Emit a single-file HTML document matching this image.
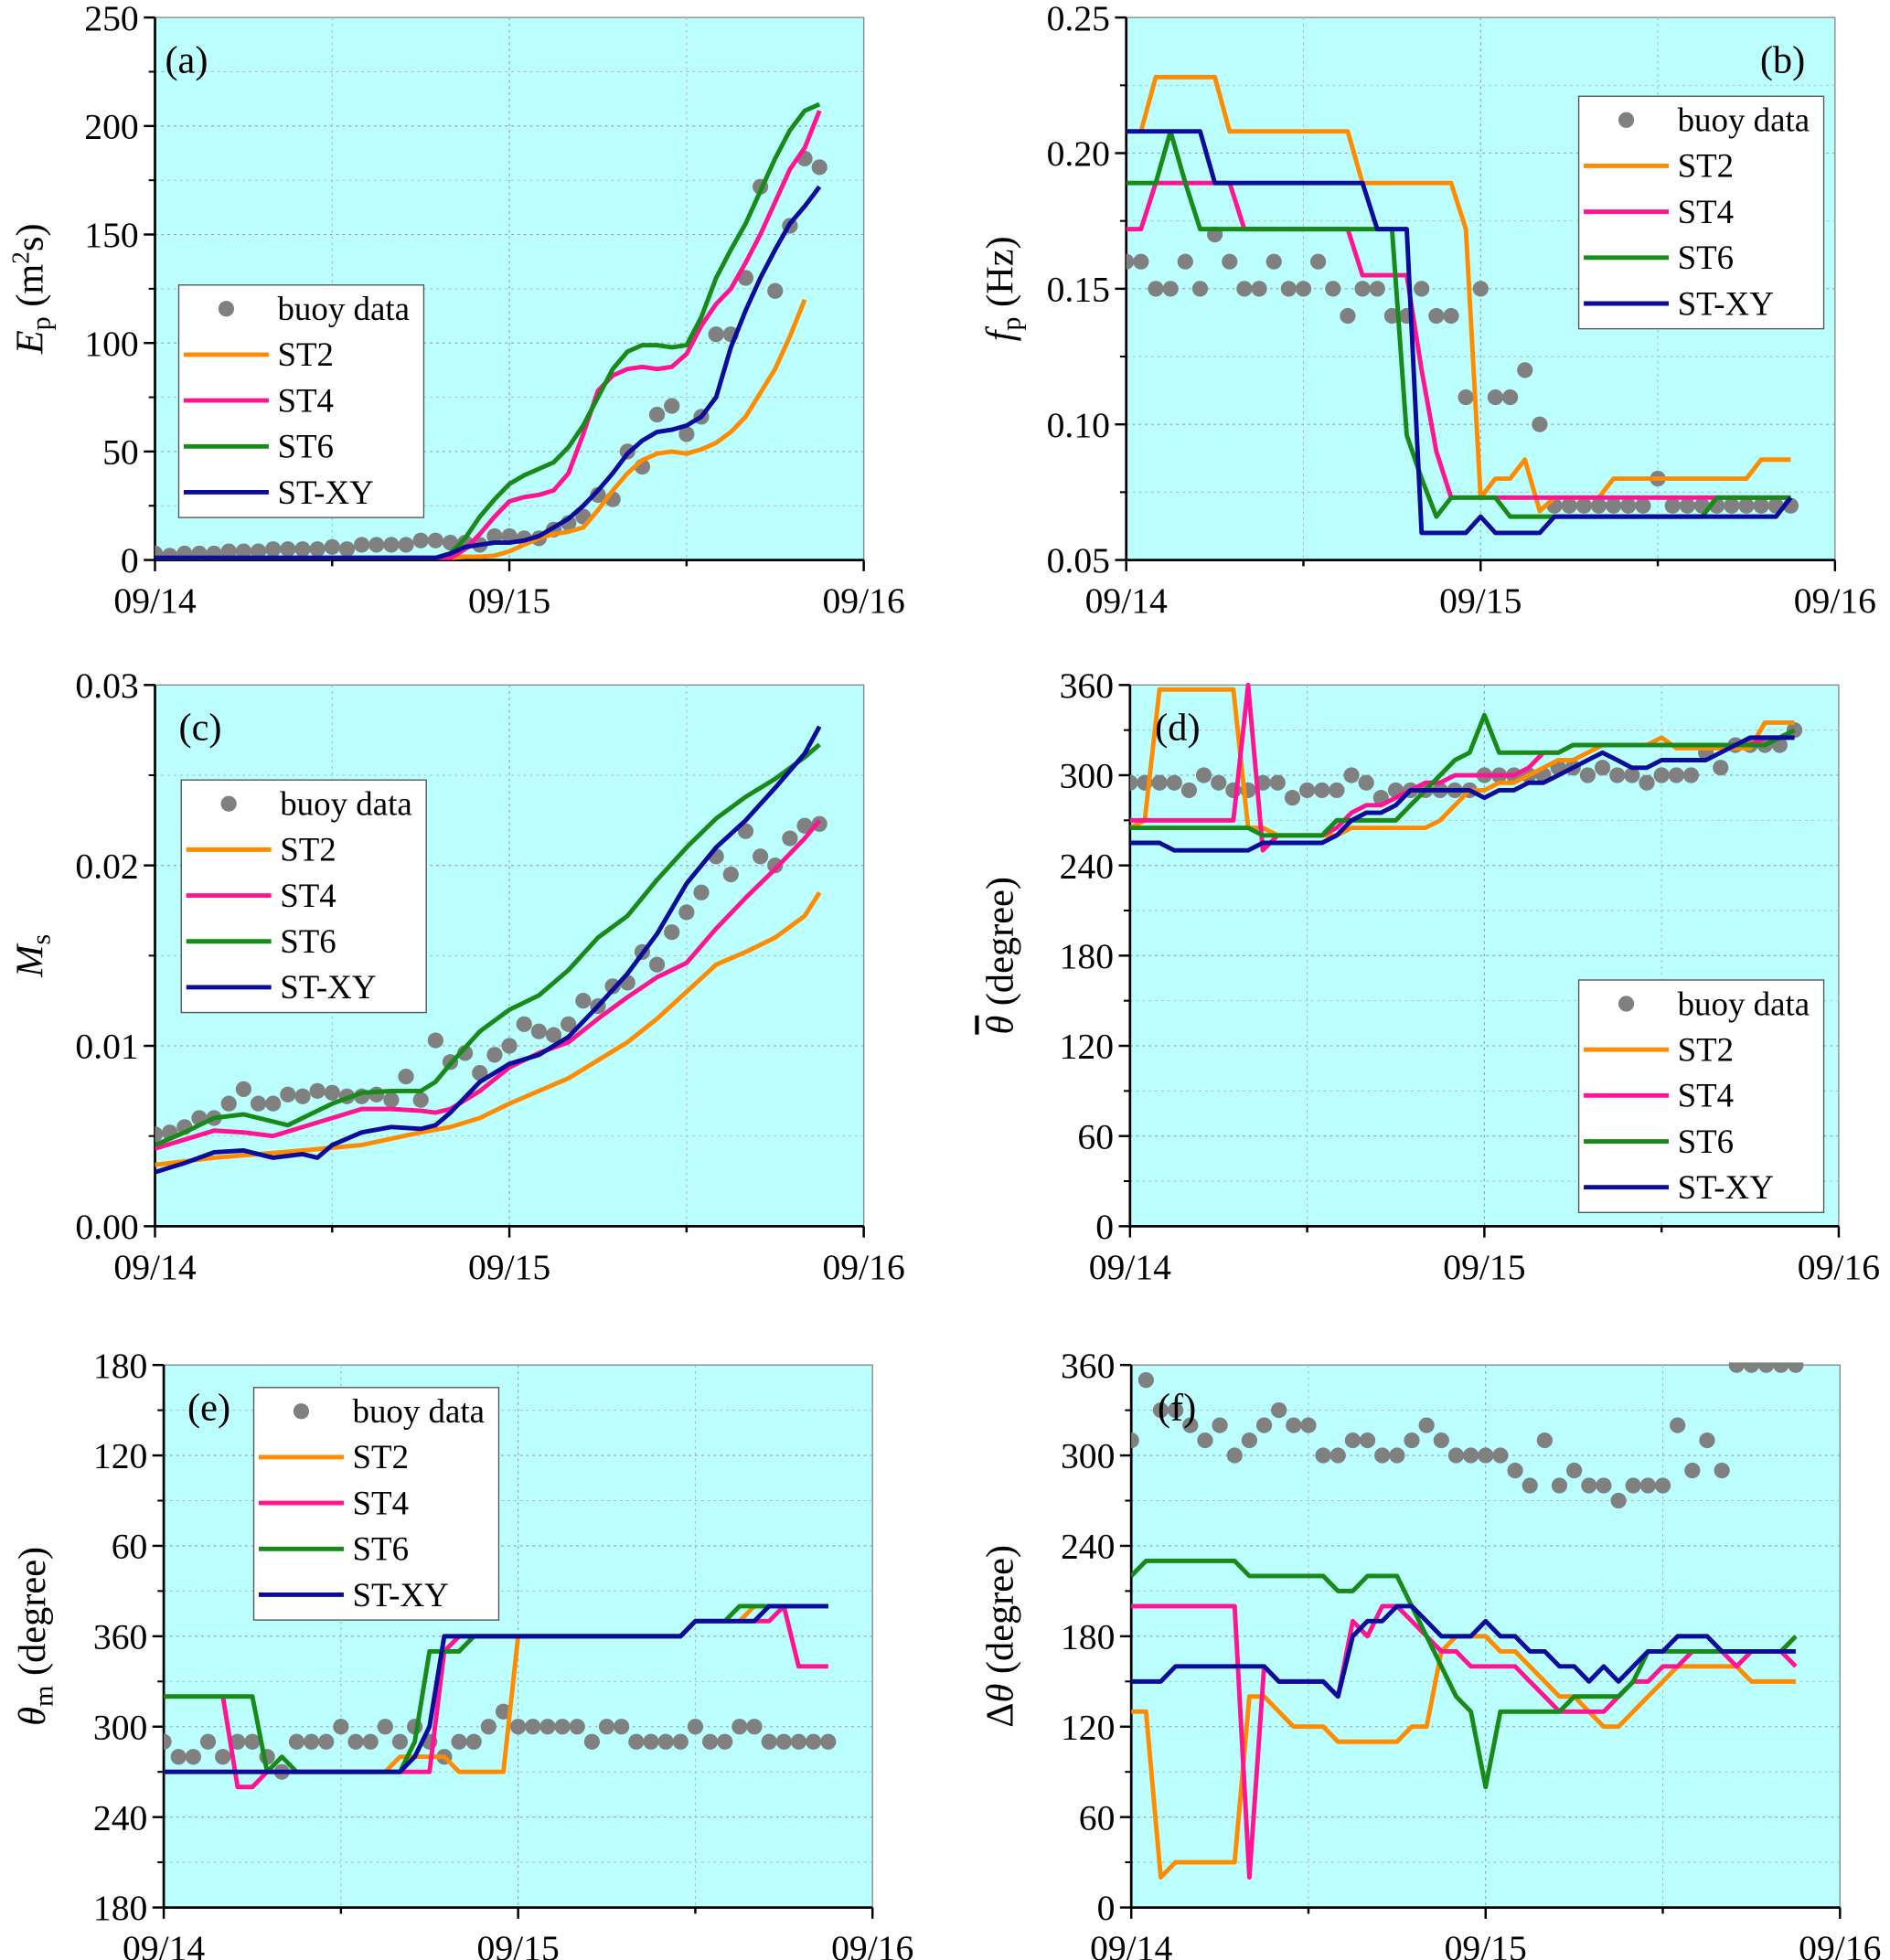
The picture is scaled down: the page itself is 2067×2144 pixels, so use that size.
<!DOCTYPE html>
<html><head><meta charset="utf-8"><style>
html,body{margin:0;padding:0;background:#fff}
svg{display:block}
text{font-family:"Liberation Serif",serif;fill:#000}
</style></head><body>
<svg id="fig" width="2067" height="2144" viewBox="0 0 1512 1568" preserveAspectRatio="none" xmlns="http://www.w3.org/2000/svg"></svg>
<script>
// ---------- shared categories ----------
const hours = [0,1,2,3,4,5,6,7,8,9,10,11,12,13,14,15,16,17,18,19,20,21,22,23,24,25,26,27,28,29,30,31,32,33,34,35,36,37,38,39,40,41,42,43,44,45,46,47];
const xTickLabels = ["09/14","09/15","09/16"];
const seriesNames = ["buoy data","ST2","ST4","ST6","ST-XY"];

// ---------- (a) Ep ----------
const buoyA = [3,2,3,3,3,4,4,4,5,5,5,5,6,5,7,7,7,7,9,9,8,8,7,11,11,10,10,14,17,20,30,28,50,43,67,71,58,66,104,104,130,172,124,154,185,181];
const st2A = [1,1,1,1,1,1,1,1,1,1,1,1,1,1,1,1,1,1,1,1,1,1.5,1.5,2,4,7,10,12,13,15,23,32,40,46,49,50,49,51,54,59,66,77,88,103,120];
const st4A = [1,1,1,1,1,1,1,1,1,1,1,1,1,1,1,1,1,1,1,1,1,5,12,20,27,29,30,32,40,58,78,85,88,89,88,89,95,108,118,125,137,150,165,180,190,207];
const st6A = [1,1,1,1,1,1,1,1,1,1,1,1,1,1,1,1,1,1,1,1,3,10,20,28,35,39,42,45,52,62,75,88,96,99,99,98,99,112,130,143,155,170,185,198,207,210];
const stxyA = [1,1,1,1,1,1,1,1,1,1,1,1,1,1,1,1,1,1,1,1,3,6,7,8,8,9,11,15,19,25,32,40,49,55,59,60,62,66,75,98,115,130,143,155,163,172];
const yTicksA = [0,50,100,150,200,250];

// ---------- (b) fp ----------
const buoyB = [0.16,0.16,0.15,0.15,0.16,0.15,0.17,0.16,0.15,0.15,0.16,0.15,0.15,0.16,0.15,0.14,0.15,0.15,0.14,0.14,0.15,0.14,0.14,0.11,0.15,0.11,0.11,0.12,0.10,0.07,0.07,0.07,0.07,0.07,0.07,0.07,0.08,0.07,0.07,0.07,0.07,0.07,0.07,0.07,0.07,0.07];
const st2B = [0.208,0.208,0.228,0.228,0.228,0.228,0.228,0.208,0.208,0.208,0.208,0.208,0.208,0.208,0.208,0.208,0.189,0.189,0.189,0.189,0.189,0.189,0.189,0.172,0.073,0.08,0.08,0.087,0.068,0.073,0.073,0.073,0.073,0.08,0.08,0.08,0.08,0.08,0.08,0.08,0.08,0.08,0.08,0.087,0.087,0.087];
const st4B = [0.172,0.172,0.189,0.189,0.189,0.189,0.189,0.189,0.172,0.172,0.172,0.172,0.172,0.172,0.172,0.172,0.155,0.155,0.155,0.155,0.12,0.09,0.073,0.073,0.073,0.073,0.073,0.073,0.073,0.073,0.073,0.073,0.073,0.073,0.073,0.073,0.073,0.073,0.073,0.073,0.073,0.073,0.073,0.073,0.073,0.073];
const st6B = [0.189,0.189,0.189,0.208,0.189,0.172,0.172,0.172,0.172,0.172,0.172,0.172,0.172,0.172,0.172,0.172,0.172,0.172,0.172,0.096,0.08,0.066,0.073,0.073,0.073,0.073,0.066,0.066,0.066,0.066,0.066,0.066,0.066,0.066,0.066,0.066,0.066,0.066,0.066,0.066,0.073,0.073,0.073,0.073,0.073,0.073];
const stxyB = [0.208,0.208,0.208,0.208,0.208,0.208,0.189,0.189,0.189,0.189,0.189,0.189,0.189,0.189,0.189,0.189,0.189,0.172,0.172,0.172,0.06,0.06,0.06,0.06,0.066,0.06,0.06,0.06,0.06,0.066,0.066,0.066,0.066,0.066,0.066,0.066,0.066,0.066,0.066,0.066,0.066,0.066,0.066,0.066,0.066,0.073];
const yTicksB = [0.05,0.10,0.15,0.20,0.25];

// ---------- (c) Ms ----------
const buoyC = [0.0051,0.0052,0.0055,0.0060,0.0060,0.0068,0.0076,0.0068,0.0068,0.0073,0.0072,0.0075,0.0074,0.0072,0.0072,0.0073,0.0070,0.0083,0.0070,0.0103,0.0091,0.0096,0.0085,0.0095,0.0100,0.0112,0.0108,0.0106,0.0112,0.0125,0.0122,0.0133,0.0135,0.0152,0.0145,0.0163,0.0174,0.0185,0.0205,0.0195,0.0219,0.0205,0.0200,0.0215,0.0222,0.0223];
const hoursST2C = [0,4,10,14,18,20,22,24,26,28,30,32,34,36,38,40,42,44,45];
const st2C = [0.0034,0.0038,0.0042,0.0045,0.0052,0.0055,0.0060,0.0068,0.0075,0.0082,0.0092,0.0102,0.0115,0.0130,0.0145,0.0152,0.0160,0.0172,0.0185];
const hoursST4C = [0,2,4,6,8,10,12,14,16,18,19,20,22,24,26,28,30,32,34,36,38,40,42,44,45];
const st4C = [0.0043,0.0048,0.0053,0.0052,0.0050,0.0055,0.0060,0.0065,0.0065,0.0064,0.0063,0.0065,0.0075,0.0088,0.0096,0.0102,0.0115,0.0127,0.0138,0.0146,0.0165,0.0182,0.0198,0.0215,0.0225];
const hoursST6C = [0,2,4,6,8,9,10,12,14,16,18,19,20,22,24,26,28,30,32,34,36,38,40,42,44,45];
const st6C = [0.0045,0.0052,0.0060,0.0062,0.0058,0.0056,0.0060,0.0068,0.0074,0.0075,0.0075,0.0080,0.0090,0.0108,0.0120,0.0128,0.0142,0.0160,0.0172,0.0192,0.0210,0.0226,0.0238,0.0248,0.0260,0.0267];
const hoursSTXYC = [0,2,4,6,8,10,11,12,14,16,18,19,20,22,24,26,28,30,32,34,36,38,40,42,44,45];
const stxyC = [0.0030,0.0035,0.0041,0.0042,0.0038,0.0040,0.0038,0.0045,0.0052,0.0055,0.0054,0.0056,0.0063,0.0080,0.0090,0.0095,0.0105,0.0122,0.0140,0.0162,0.0190,0.0210,0.0225,0.0243,0.0262,0.0277];
const yTicksC = [0,0.01,0.02,0.03];

// ---------- (d) mean direction ----------
const buoyD = [295,295,295,295,290,300,295,290,290,295,295,285,290,290,290,300,295,285,290,290,290,290,290,290,300,300,300,300,300,305,305,300,305,300,300,295,300,300,300,315,305,320,320,320,320,330];
const st2D = [265,270,357,357,357,357,357,357,265,265,260,260,260,260,260,265,265,265,265,265,265,270,280,290,290,295,295,300,305,310,310,315,320,320,320,320,325,318,318,318,318,318,318,335,335,335];
const st4D = [270,270,270,270,270,270,270,270,360,250,260,260,260,260,265,275,280,280,285,290,295,295,300,300,300,300,300,305,315,315,320,320,320,320,320,320,320,320,320,320,320,320,320,325,325,330];
const st6D = [265,265,265,265,265,265,265,265,265,260,260,260,260,260,270,270,270,270,270,280,290,300,310,315,340,315,315,315,315,315,320,320,320,320,320,320,320,320,320,320,320,320,320,320,325,330];
const stxyD = [255,255,255,250,250,250,250,250,250,255,255,255,255,255,260,270,275,275,280,290,290,290,290,290,285,290,290,295,295,300,305,310,315,310,305,305,310,310,310,310,315,320,325,325,325,325];
const yTicksD = [0,60,120,180,240,300,360];

// ---------- (e) theta_m (unwrapped degrees) ----------
const buoyE = [290,280,280,290,280,290,290,280,270,290,290,290,300,290,290,300,290,300,290,280,290,290,300,310,300,300,300,300,300,290,300,300,290,290,290,290,300,290,290,300,300,290,290,290,290,290];
const st2E = [270,270,270,270,270,270,270,270,270,270,270,270,270,270,270,270,280,280,280,280,270,270,270,270,360,360,360,360,360,360,360,360,360,360,360,360,370,370,370,370,380,380,380,380,380,380];
const hoursST4E = [4,5,6,7,8,9,10,11,12,13,14,15,16,17,18,19,20,21,22,23,24,25,26,27,28,29,30,31,32,33,34,35,36,37,38,39,40,41,42,43,44,45];
const st4E = [320,260,260,270,270,270,270,270,270,270,270,270,270,270,270,350,360,360,360,360,360,360,360,360,360,360,360,360,360,360,360,360,370,370,370,370,370,370,380,340,340,340];
const st6E = [320,320,320,320,320,320,320,270,280,270,270,270,270,270,270,270,270,290,350,350,350,360,360,360,360,360,360,360,360,360,360,360,360,360,360,360,370,370,370,380,380,380,380,380,380,380];
const stxyE = [270,270,270,270,270,270,270,270,270,270,270,270,270,270,270,270,270,280,300,360,360,360,360,360,360,360,360,360,360,360,360,360,360,360,360,360,370,370,370,370,370,380,380,380,380,380];
const yTicksE = [180,240,300,360,420,480,540];
const yTickLabelsE = ["180","240","300","360","60","120","180"];

// ---------- (f) spread ----------
const buoyF = [310,350,330,330,320,310,320,300,310,320,330,320,320,300,300,310,310,300,300,310,320,310,300,300,300,300,290,280,310,280,290,280,280,270,280,280,280,320,290,310,290,360,360,360,360,360];
const st2F = [130,130,20,30,30,30,30,30,140,140,130,120,120,120,110,110,110,110,110,120,120,170,180,180,180,170,170,160,150,140,140,130,120,120,130,140,150,160,160,160,160,160,150,150,150,150];
const st4F = [200,200,200,200,200,200,200,200,20,160,150,150,150,150,140,190,180,200,200,190,180,170,170,160,160,160,160,150,140,130,130,130,130,140,150,150,160,160,170,170,170,160,170,170,170,160];
const st6F = [220,230,230,230,230,230,230,230,220,220,220,220,220,220,210,210,220,220,220,200,180,160,140,130,80,130,130,130,130,130,140,140,140,140,150,170,170,170,170,170,170,170,170,170,170,180];
const stxyF = [150,150,150,160,160,160,160,160,160,160,150,150,150,150,140,180,190,190,200,200,190,180,180,180,190,180,180,170,170,160,160,150,160,150,160,170,170,180,180,180,170,170,170,170,170,170];
const yTicksF = [0,60,120,180,240,300,360];

// ---------- drawing ----------
const NS = "http://www.w3.org/2000/svg";
const svg = document.getElementById('fig');
const COL = {st2:"#ff8c00", st4:"#ff1493", st6:"#178a17", stxy:"#0b0b9c", buoy:"#808080", bg:"#bbffff"};
function mk(tag, attrs, parent){const e=document.createElementNS(NS,tag);for(const k in attrs)e.setAttribute(k,attrs[k]);(parent||svg).appendChild(e);return e;}

function panel(p){
  const g = mk('g',{});
  
  
  const xs = h => p.x0 + (h/48)*(p.x1-p.x0);
  const ys = v => p.yb - (v-p.ymin)/(p.ymax-p.ymin)*(p.yb-p.yt);
  const bg = mk('rect',{x:p.x0,y:p.yt,width:p.x1-p.x0,height:p.yb-p.yt,fill:COL.bg,stroke:"#8a8a8a","stroke-width":1},g);
  
  
  const step = p.yticks[1]-p.yticks[0];
  for(let i=0;i<p.yticks.length;i++){
    const v=p.yticks[i];
    if(i>0&&i<p.yticks.length-1) mk('line',{x1:p.x0,x2:p.x1,y1:ys(v),y2:ys(v),stroke:"#9a9a9a","stroke-width":0.8,"stroke-dasharray":"2,3"},g);
    if(i<p.yticks.length-1){const m=v+step/2;mk('line',{x1:p.x0,x2:p.x1,y1:ys(m),y2:ys(m),stroke:"#b5b5b5","stroke-width":0.7,"stroke-dasharray":"2,3"},g);
      mk('line',{x1:p.x0-5,x2:p.x0,y1:ys(m),y2:ys(m),stroke:"#000","stroke-width":1.5},g);}
    mk('line',{x1:p.x0-9,x2:p.x0,y1:ys(v),y2:ys(v),stroke:"#000","stroke-width":1.8},g);
    const t=mk('text',{x:p.x0-13,y:ys(v)+10,"font-size":29,"text-anchor":"end"},g);
    t.textContent = p.ylabels ? p.ylabels[i] : (p.dec!=null ? v.toFixed(p.dec) : String(v));
    
    
  }
  [12,24,36].forEach(h=>mk('line',{x1:xs(h),x2:xs(h),y1:p.yt,y2:p.yb,stroke:h==24?"#9a9a9a":"#b5b5b5","stroke-width":0.8,"stroke-dasharray":"2,3"},g));
  [0,12,24,36,48].forEach(h=>mk('line',{x1:xs(h),x2:xs(h),y1:p.yb,y2:p.yb+(h%24?5:9),stroke:"#000","stroke-width":1.8},g));
  xTickLabels.forEach((lab,i)=>{const t=mk('text',{x:xs(i*24),y:p.yb+42,"font-size":29,"text-anchor":"middle"},g);t.textContent=lab;
    
    });
  mk('line',{x1:p.x0,x2:p.x0,y1:p.yt,y2:p.yb,stroke:"#000","stroke-width":2},g);
  mk('line',{x1:p.x0,x2:p.x1,y1:p.yb,y2:p.yb,stroke:"#000","stroke-width":2},g);
  const cid='clip'+p.id;
  const cp=mk('clipPath',{id:cid},g);mk('rect',{x:p.x0,y:p.yt-2,width:p.x1-p.x0,height:p.yb-p.yt+2},cp);
  const dg=mk('g',{"clip-path":"url(#"+cid+")"},g);
  p.buoy.forEach((v,i)=>{const c=mk('circle',{cx:xs(hours[i]),cy:ys(v),r:6.3,fill:COL.buoy},dg);
    
    });
  p.lines.forEach(L=>{
    const hs=L.h||hours;
    const d=L.v.map((v,i)=>(i?'L':'M')+xs(hs[i]).toFixed(1)+','+ys(v).toFixed(1)).join(' ');
    const pa=mk('path',{d:d,fill:"none",stroke:L.c,"stroke-width":3.6,"stroke-linejoin":"round"},dg);
    
    
  });
  const lab=mk('text',{x:p.lx,y:p.ly,"font-size":31},g);lab.textContent=p.label;
  
  
  const yt=mk('text',{x:p.tx,y:(p.yt+p.yb)/2,"font-size":31,"text-anchor":"middle",transform:`rotate(-90 ${p.tx} ${(p.yt+p.yb)/2})`},g);
  yt.innerHTML=p.title;
  
  
  if(p.leg){
    const L=p.leg;const lg=mk('g',{},g);
    
    
    mk('rect',{x:L.x,y:L.y,width:196,height:186,fill:"#fff",stroke:"#555","stroke-width":1},lg);
    const cols=[COL.buoy,COL.st2,COL.st4,COL.st6,COL.stxy];
    seriesNames.forEach((nm,i)=>{
      const cy=L.y+19+i*36.7;
      const e=mk('g',{},lg);
      
      
      if(i==0) mk('circle',{cx:L.x+38,cy:cy,r:6.3,fill:COL.buoy},e);
      else mk('line',{x1:L.x+4,x2:L.x+72,y1:cy,y2:cy,stroke:cols[i],"stroke-width":3.6},e);
      const t=mk('text',{x:L.x+79,y:cy+9,"font-size":27},e);t.textContent=nm;
    });
  }
}
const L5=(a,b,c,d,h)=>[{n:'st2',c:COL.st2,v:a,h:h&&h[0]},{n:'st4',c:COL.st4,v:b,h:h&&h[1]},{n:'st6',c:COL.st6,v:c,h:h&&h[2]},{n:'st-xy',c:COL.stxy,v:d,h:h&&h[3]}];

panel({id:'a',x0:124,x1:691,yt:14,yb:448,ymin:0,ymax:250,yticks:yTicksA,buoy:buoyA,lines:L5(st2A,st4A,st6A,stxyA),
  label:'(a)',lx:132,ly:58,tx:34,title:'<tspan font-style="italic">E</tspan><tspan font-size="22" dy="6">p</tspan><tspan dy="-6"> (m</tspan><tspan font-size="20" dy="-11">2</tspan><tspan dy="11">s)</tspan>',leg:{x:143,y:228}});
panel({id:'b',x0:901,x1:1468,yt:14,yb:448,ymin:0.05,ymax:0.25,yticks:yTicksB,dec:2,buoy:buoyB,lines:L5(st2B,st4B,st6B,stxyB),
  label:'(b)',lx:1408,ly:58,tx:810,title:'<tspan font-style="italic">f</tspan><tspan font-size="22" dy="6">p</tspan><tspan dy="-6"> (Hz)</tspan>',leg:{x:1263,y:77}});
panel({id:'c',x0:124,x1:691,yt:548,yb:981,ymin:0,ymax:0.03,yticks:yTicksC,dec:2,buoy:buoyC,lines:L5(st2C,st4C,st6C,stxyC,[hoursST2C,hoursST4C,hoursST6C,hoursSTXYC]),
  label:'(c)',lx:143,ly:592,tx:34,title:'<tspan font-style="italic">M</tspan><tspan font-size="22" dy="6">s</tspan>',leg:{x:145,y:624}});
panel({id:'d',x0:904,x1:1471,yt:548,yb:981,ymin:0,ymax:360,yticks:yTicksD,buoy:buoyD,lines:L5(st2D,st4D,st6D,stxyD),
  label:'(d)',lx:924,ly:592,tx:810,title:'<tspan font-style="italic" style="text-decoration:overline">θ</tspan><tspan> (degree)</tspan>',leg:{x:1263,y:784}});
panel({id:'e',x0:131,x1:698,yt:1092,yb:1526,ymin:180,ymax:540,yticks:yTicksE,ylabels:yTickLabelsE,buoy:buoyE,lines:L5(st2E,st4E,st6E,stxyE,[null,hoursST4E,null,null]),
  label:'(e)',lx:150,ly:1136,tx:36,title:'<tspan font-style="italic">θ</tspan><tspan font-size="22" dy="6">m</tspan><tspan dy="-6"> (degree)</tspan>',leg:{x:203,y:1110}});
panel({id:'f',x0:905,x1:1472,yt:1092,yb:1526,ymin:0,ymax:360,yticks:yTicksF,buoy:buoyF,lines:L5(st2F,st4F,st6F,stxyF),
  label:'(f)',lx:926,ly:1136,tx:810,title:'<tspan>Δ</tspan><tspan font-style="italic">θ</tspan><tspan> (degree)</tspan>'});
</script>
</body></html>
